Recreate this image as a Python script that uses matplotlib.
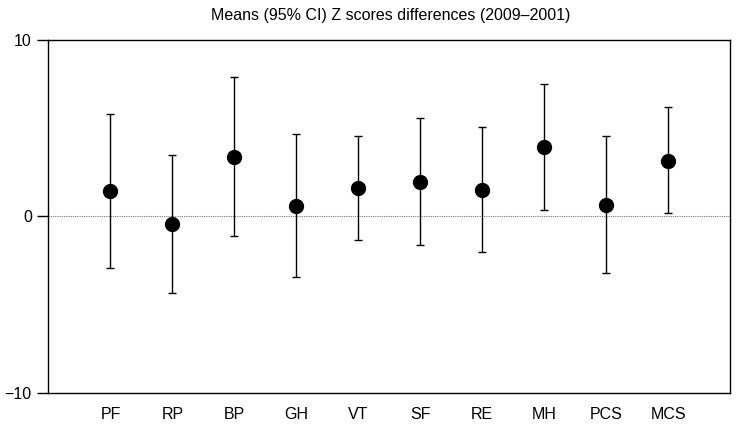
import matplotlib
matplotlib.use("Agg")
import matplotlib.pyplot as plt

categories = ["PF", "RP", "BP", "GH", "VT", "SF", "RE", "MH", "PCS", "MCS"]
means = [1.46, -0.42, 3.39, 0.61, 1.60, 1.95, 1.48, 3.92, 0.67, 3.16]
upper = [5.79, 3.48, 7.89, 4.69, 4.58, 5.60, 5.09, 7.49, 4.58, 6.19]
lower = [-2.92, -4.32, -1.12, -3.41, -1.31, -1.61, -2.01, 0.39, -3.20, 0.20]
yticks = [-10, 0, 10]
ytick_labels = ["\u221210", "0", "10"]
title = "Means (95% CI) Z scores differences (2009\u20132001)"

plt.rcParams['font.family'] = ['Liberation Sans', 'DejaVu Sans']

fig = plt.figure(figsize=(7.38, 4.24), dpi=100)
ax = fig.add_axes([0.0657, 0.073, 0.9235, 0.833])

x = list(range(1, len(categories) + 1))
yerr = [[m - l for m, l in zip(means, lower)], [u - m for u, m in zip(upper, means)]]
ax.axhline(0, color="#777777", linestyle=(0, (1, 1)), linewidth=0.8, zorder=1)
ax.errorbar(x, means, yerr=yerr, fmt="o", color="black", markersize=10,
            ecolor="black", elinewidth=1, capsize=3, capthick=1, zorder=3)

ax.set_xlim(0, 11)
ax.set_ylim(-10, 10)
ax.set_yticks(yticks)
ax.set_yticklabels(ytick_labels, fontsize=11.5)
ax.set_xticks(x)
ax.set_xticklabels(categories, fontsize=11.5)
ax.tick_params(axis="x", length=0, pad=10)
ax.tick_params(axis="y", length=8, width=1, direction="out", pad=4)
for s in ax.spines.values():
    s.set_linewidth(1)
fig.text(0.53, 0.963, title, ha="center", va="center", fontsize=11.5)

fig.savefig("out.png", dpi=100)
